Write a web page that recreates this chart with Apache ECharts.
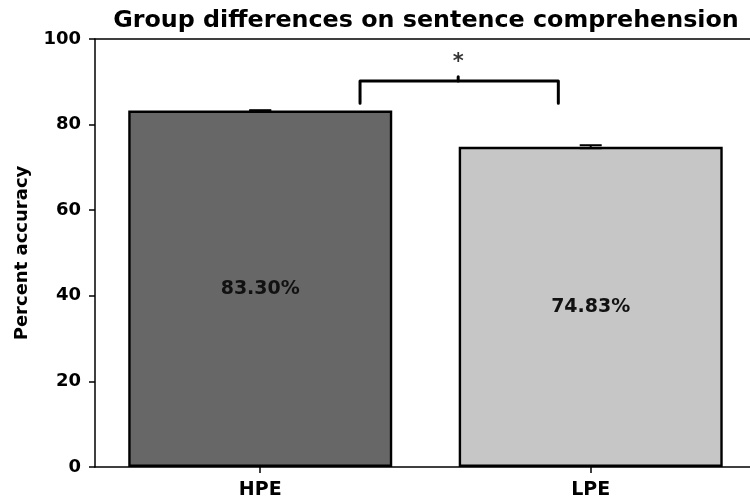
<!DOCTYPE html>
<html>
<head>
<meta charset="utf-8">
<script src="https://cdn.jsdelivr.net/npm/echarts@6/dist/echarts.min.js"></script>
<style>
  html, body { margin: 0; padding: 0; background: #fff; }
  #chart { width: 750px; height: 502px; }
</style>
</head>
<body>
<div id="chart"></div>
<script>
// data
const groups = ['HPE', 'LPE'];
const groupPos = [0, 1];
const accuracy = [83.30, 74.83];
const errors = [0.05, 0.35];
const barColors = ['#676767', '#c6c6c6'];
const yTicks = { min: 0, max: 100, interval: 20 };
// the original figure is cut on the right, so the x range stops short of 1.5
const xRange = { min: -0.5, max: 1.482 };

// significance bracket, x in group units (0 = HPE, 1 = LPE)
const bracketX = [0.302, 0.902];
const bracketLow = 85.0;
const bracketHigh = 90.2;
const bracketMidX = 0.599;
const bracketMidTop = 91.2;
const starY = 94.6;

const font = 'DejaVu Sans';
const chart = echarts.init(document.getElementById('chart'), null, { renderer: 'canvas' });

const bracketLine = [
  [bracketX[0], bracketLow],
  [bracketX[0], bracketHigh],
  [bracketX[1], bracketHigh],
  [bracketX[1], bracketLow],
];

chart.setOption({
  animation: false,
  title: {
    text: 'Group differences on sentence comprehension',
    left: 421,
    textAlign: 'center',
    top: 4,
    textStyle: { fontFamily: font, fontSize: 23.8, fontWeight: 'bold', color: '#000' },
  },
  grid: { left: 95, top: 39, right: 0, height: 428 },
  xAxis: [
    {
      type: 'value',
      min: xRange.min,
      max: xRange.max,
      axisLine: { onZero: false, lineStyle: { color: '#000', width: 1.5 } },
      axisTick: { show: true, customValues: groupPos, length: 6, lineStyle: { color: '#000', width: 1.5 } },
      axisLabel: {
        customValues: groupPos,
        formatter: (v) => groups[Math.round(v)],
        fontFamily: font, fontSize: 19, fontWeight: 'bold', color: '#000', margin: 14,
      },
      splitLine: { show: false },
    },
    {
      type: 'value',
      position: 'top',
      min: xRange.min,
      max: xRange.max,
      axisLine: { show: true, onZero: false, lineStyle: { color: '#000', width: 1.5 } },
      axisTick: { show: false },
      axisLabel: { show: false },
      splitLine: { show: false },
    },
  ],
  yAxis: {
    type: 'value',
    min: yTicks.min,
    max: yTicks.max,
    interval: yTicks.interval,
    name: 'Percent accuracy',
    nameLocation: 'middle',
    nameGap: 64,
    nameTextStyle: { fontFamily: font, fontSize: 18, fontWeight: 'bold', color: '#000' },
    axisLine: { show: true, onZero: false, lineStyle: { color: '#000', width: 1.5 } },
    axisTick: { show: true, length: 6, lineStyle: { color: '#000', width: 1.5 } },
    axisLabel: { fontFamily: font, fontSize: 18, fontWeight: 'bold', color: '#000', margin: 14 },
    splitLine: { show: false },
  },
  series: [
    {
      type: 'bar',
      barWidth: 264,
      data: accuracy.map((v, i) => ({
        value: [groupPos[i], v],
        itemStyle: { color: barColors[i], borderColor: '#000', borderWidth: 2.4 },
      })),
      label: {
        show: true,
        position: 'inside',
        formatter: (p) => p.value[1].toFixed(2) + '%',
        fontFamily: font,
        fontSize: 19,
        fontWeight: 'bold',
        color: '#111',
      },
      z: 2,
    },
    {
      type: 'custom',
      data: accuracy.map((v, i) => [groupPos[i], v, errors[i]]),
      renderItem: (params, api) => {
        const x = api.value(0);
        const hi = api.coord([x, api.value(1) + api.value(2)]);
        const lo = api.coord([x, api.value(1) - api.value(2)]);
        const half = 11;
        const style = { stroke: '#000', lineWidth: 2 };
        return {
          type: 'group',
          children: [
            { type: 'line', shape: { x1: hi[0], y1: hi[1], x2: lo[0], y2: lo[1] }, style },
            { type: 'line', shape: { x1: hi[0] - half, y1: hi[1], x2: hi[0] + half, y2: hi[1] }, style },
            { type: 'line', shape: { x1: lo[0] - half, y1: lo[1], x2: lo[0] + half, y2: lo[1] }, style },
          ],
        };
      },
      z: 3,
    },
    {
      type: 'line',
      xAxisIndex: 1,
      data: bracketLine,
      symbol: 'none',
      lineStyle: { color: '#000', width: 3, cap: 'round', join: 'round' },
      z: 4,
    },
    {
      type: 'line',
      xAxisIndex: 1,
      data: [[bracketMidX, bracketHigh], [bracketMidX, bracketMidTop]],
      symbol: 'none',
      lineStyle: { color: '#000', width: 3, cap: 'round' },
      z: 4,
    },
    {
      type: 'scatter',
      xAxisIndex: 1,
      data: [[bracketMidX, starY]],
      symbolSize: 0,
      label: {
        show: true,
        position: 'inside',
        formatter: '*',
        fontFamily: font,
        fontSize: 21,
        fontWeight: 'bold',
        color: '#000',
      },
      z: 5,
    },
  ],
});
</script>
</body>
</html>
